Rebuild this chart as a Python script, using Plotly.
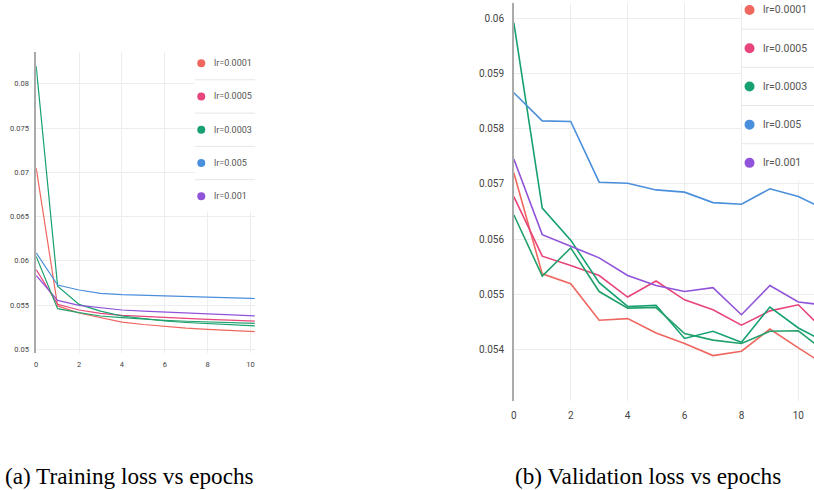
import plotly.graph_objects as go

epochs = [0, 1, 2, 3, 4, 5, 6, 7, 8, 9, 10, 11]

legend_labels = ["lr=0.0001", "lr=0.0005", "lr=0.0003", "lr=0.005", "lr=0.001"]

# Training loss
train_lr0001 = [0.0705, 0.0549, 0.0541, 0.05357, 0.05308, 0.0528, 0.05256, 0.0524, 0.05226, 0.05213, 0.0520, 0.0519]
train_lr0005 = [0.0590, 0.05508, 0.05444, 0.05406, 0.05383, 0.0537, 0.05357, 0.05347, 0.05338, 0.05329, 0.0532, 0.05313]
train_lr0003 = [0.0820, 0.05714, 0.05508, 0.05432, 0.05376, 0.05345, 0.0532, 0.05303, 0.0529, 0.05276, 0.05263, 0.05255]
train_lr005 = [0.0609, 0.05726, 0.0567, 0.05632, 0.05617, 0.05609, 0.05602, 0.05594, 0.05586, 0.0558, 0.05575, 0.05571]
train_lr001 = [0.05835, 0.05553, 0.05496, 0.0547, 0.05444, 0.05432, 0.05421, 0.05408, 0.05395, 0.05385, 0.05376, 0.0537]
train_extra = [0.0605, 0.05459, 0.05414, 0.05376, 0.05357, 0.0534, 0.05327, 0.05317, 0.05308, 0.053, 0.05293, 0.05288]

# Validation loss
val_lr0001 = [0.0572, 0.05537, 0.05519, 0.05453, 0.05456, 0.0543, 0.05411, 0.05389, 0.05397, 0.05437, 0.05403, 0.0537]
val_lr0005 = [0.05677, 0.05569, 0.05552, 0.05534, 0.05495, 0.05524, 0.0549, 0.05472, 0.05444, 0.0547, 0.05481, 0.0543]
val_lr0003 = [0.05992, 0.05656, 0.05598, 0.05521, 0.05478, 0.0548, 0.0542, 0.05433, 0.05413, 0.05477, 0.05439, 0.05412]
val_lr005 = [0.05865, 0.05814, 0.05813, 0.05703, 0.05701, 0.05689, 0.05685, 0.05666, 0.05663, 0.05691, 0.05677, 0.05652]
val_lr001 = [0.05745, 0.05608, 0.05587, 0.05566, 0.05534, 0.05516, 0.05505, 0.05512, 0.05463, 0.05516, 0.05486, 0.0548]
val_extra = [0.05644, 0.05533, 0.05584, 0.05505, 0.05475, 0.05476, 0.05429, 0.05417, 0.05411, 0.05433, 0.05434, 0.05394]

train_ticks = [0.05, 0.055, 0.06, 0.065, 0.07, 0.075, 0.08]
train_ticktext = ["0.05", "0.055", "0.06", "0.065", "0.07", "0.075", "0.08"]
val_ticks = [0.054, 0.055, 0.056, 0.057, 0.058, 0.059, 0.06]
val_ticktext = ["0.054", "0.055", "0.056", "0.057", "0.058", "0.059", "0.06"]
x_ticks = [0, 2, 4, 6, 8, 10]

colors = ["#EF675F", "#E8457A", "#17A070", "#4A8FDB", "#9153D9"]
extra_color = "#22A06B"

captions = ["(a) Training loss vs epochs", "(b) Validation loss vs epochs"]

W, H = 814, 490

def px(x):
    return x / W

def py(y):
    return (H - y) / H

fig = go.Figure()

train_series = [train_lr0001, train_lr0005, train_lr0003, train_lr005, train_lr001]
val_series = [val_lr0001, val_lr0005, val_lr0003, val_lr005, val_lr001]

for s, c, name in zip(train_series, colors, legend_labels):
    fig.add_trace(go.Scatter(x=epochs, y=s, mode="lines", name=name,
                             line=dict(color=c, width=1.2), xaxis="x", yaxis="y",
                             showlegend=False))
fig.add_trace(go.Scatter(x=epochs, y=train_extra, mode="lines", line=dict(color=extra_color, width=1.2),
                         xaxis="x", yaxis="y", showlegend=False))
for s, c, name in zip(val_series, colors, legend_labels):
    fig.add_trace(go.Scatter(x=epochs, y=s, mode="lines", name=name,
                             line=dict(color=c, width=1.6), xaxis="x2", yaxis="y2",
                             showlegend=False))
fig.add_trace(go.Scatter(x=epochs, y=val_extra, mode="lines", line=dict(color=extra_color, width=1.6),
                         xaxis="x2", yaxis="y2", showlegend=False))

tick_font_l = dict(family="Roboto", size=7.5, color="#444")
tick_font_r = dict(family="Roboto", size=10, color="#444")
grid = "#EDEDED"

fig.update_layout(
    width=W, height=H,
    margin=dict(l=0, r=0, t=0, b=0),
    paper_bgcolor="white", plot_bgcolor="white",
    showlegend=False,
    xaxis=dict(domain=[px(33.3), px(252.7)], range=[0, 10.2], tickvals=x_ticks,
               showgrid=True, gridcolor=grid, gridwidth=1, zeroline=False, showline=False,
               ticks="", tickfont=tick_font_l, anchor="y", ticklabelstandoff=5),
    yaxis=dict(domain=[py(354), py(52)], range=[0.04955, 0.08361], tickvals=train_ticks,
               ticktext=train_ticktext, showgrid=True, gridcolor=grid, gridwidth=1,
               zeroline=False, showline=True, linecolor="#AAAAAA", linewidth=1.5,
               ticks="", tickfont=tick_font_l, anchor="x", ticklabelstandoff=4),
    xaxis2=dict(domain=[px(512.7), 1.0], range=[0, 10.55], tickvals=x_ticks,
                showgrid=True, gridcolor=grid, gridwidth=1, zeroline=False, showline=False,
                ticks="", tickfont=tick_font_r, anchor="y2", ticklabelstandoff=7),
    yaxis2=dict(domain=[py(401.7), py(2.7)], range=[0.05307, 0.06028], tickvals=val_ticks,
                ticktext=val_ticktext, showgrid=True, gridcolor=grid, gridwidth=1,
                zeroline=False, showline=True, linecolor="#AAAAAA", linewidth=1.5,
                ticks="", tickfont=tick_font_r, anchor="x2", ticklabelstandoff=6),
)

shapes = []
annotations = []

def add_legend(box_x0, box_x1, box_y0, box_y1, item_y0, step, mark_x, diam, text_x, fsize):
    shapes.append(dict(type="rect", xref="paper", yref="paper", layer="above",
                       x0=px(box_x0), x1=px(box_x1), y0=py(box_y1), y1=py(box_y0),
                       fillcolor="white", line=dict(width=0)))
    for i, (lab, c) in enumerate(zip(legend_labels, colors)):
        yc = item_y0 + i * step
        shapes.append(dict(type="circle", xref="paper", yref="paper", layer="above",
                           xsizemode="pixel", ysizemode="pixel",
                           xanchor=px(mark_x), yanchor=py(yc),
                           x0=-diam / 2, x1=diam / 2, y0=-diam / 2, y1=diam / 2,
                           fillcolor=c, line=dict(width=0)))
        annotations.append(dict(xref="paper", yref="paper", x=px(text_x), y=py(yc),
                                xanchor="left", yanchor="middle", showarrow=False,
                                text=lab, font=dict(family="Roboto", size=fsize, color="#555")))
        if i < len(legend_labels) - 1:
            ys = yc + step / 2
            shapes.append(dict(type="line", xref="paper", yref="paper", layer="above",
                               x0=px(box_x0), x1=px(box_x1), y0=py(ys), y1=py(ys),
                               line=dict(color="#E6E6E6", width=1)))

add_legend(192.7, 253, 46, 212, 63.3, 33.35, 199, 8, 209.5, 9)
add_legend(741.7, 814, 0, 181, 10, 38.3, 749.3, 10, 760.5, 10.5)

annotations.append(dict(xref="paper", yref="paper", x=0, y=py(477), xanchor="left", yanchor="middle",
                        showarrow=False, text=captions[0],
                        font=dict(family="Liberation Serif", size=23.2, color="black")))
annotations.append(dict(xref="paper", yref="paper", x=px(511.5), y=py(477), xanchor="left", yanchor="middle",
                        showarrow=False, text=captions[1],
                        font=dict(family="Liberation Serif", size=23.2, color="black")))

fig.update_layout(shapes=shapes, annotations=annotations)

fig.write_html("out.html")
